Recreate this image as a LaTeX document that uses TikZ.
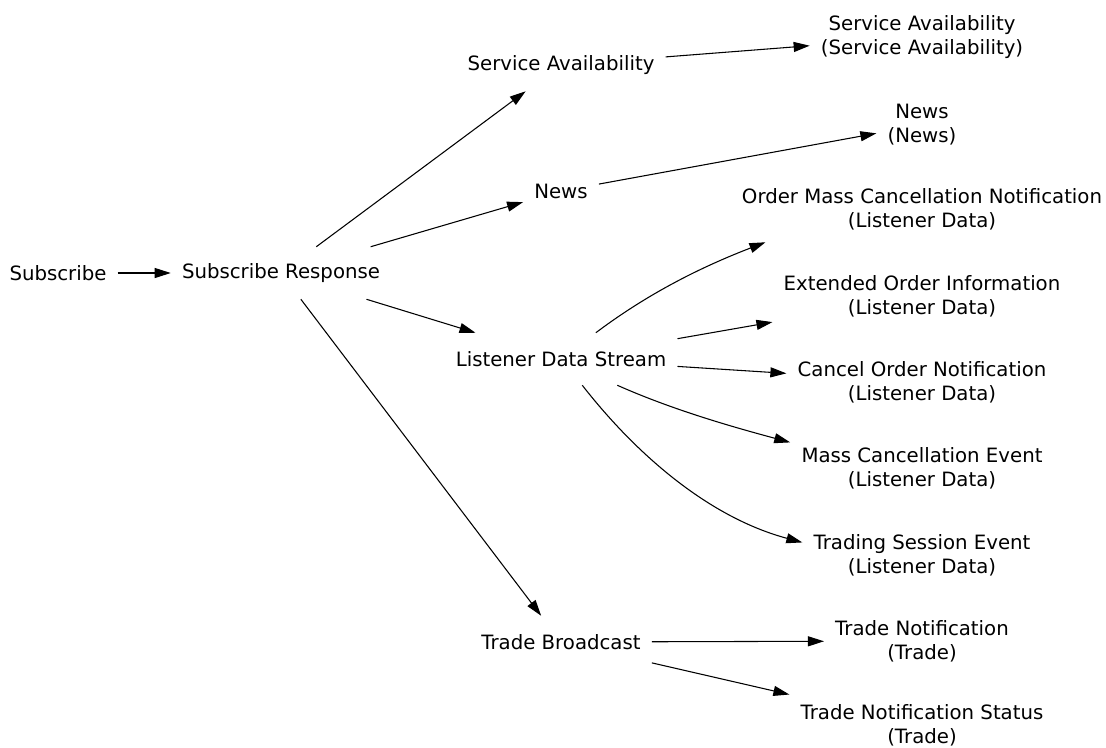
\documentclass[tikz,border=0pt]{standalone}
\usepackage{fontspec}
\setmainfont{DejaVu Sans}
\usepackage{tikz}
\usetikzlibrary{arrows.meta}

\begin{document}
\begin{tikzpicture}[x=0.75pt,y=-0.75pt,
        lbl/.style={align=center, inner xsep=8.25pt, inner ysep=0pt, minimum height=39pt,
            font=\fontsize{14.8pt}{18pt}\selectfont},
        lbltwo/.style={lbl, minimum height=49.5pt},
        flow/.style={-{Triangle[length=12pt,width=7.5pt]}, line width=0.8pt}]
        \useasboundingbox (0,0) rectangle (1106,747);
        % Define the message nodes
        \node[lbl] (sub) at (58,273) {Subscribe};
        \node[lbl] (subresp) at (281,273) {Subscribe Response};
        \node[lbl] (servav) at (561,65) {Service Availability};
        \node[lbl] (news) at (561,191) {News};
        \node[lbl] (lds) at (561,359) {Listener Data Stream};
        \node[lbl] (tradebc) at (561,642) {Trade Broadcast};
        \node[lbltwo] (servavmsg) at (922,37) {Service Availability\\(Service Availability)};
        \node[lbltwo] (newsmsg) at (922,125) {News\\(News)};
        \node[lbltwo] (omcn) at (922,209) {Order Mass Cancellation Notification\\(Listener Data)};
        \node[lbltwo] (eoi) at (922,296) {Extended Order Information\\(Listener Data)};
        \node[lbltwo] (coi) at (922,382) {Cancel Order Notification\\(Listener Data)};
        \node[lbltwo] (mce) at (922,468) {Mass Cancellation Event\\(Listener Data)};
        \node[lbltwo] (tse) at (922,555) {Trading Session Event\\(Listener Data)};
        \node[lbltwo] (tn) at (922,641) {Trade Notification\\(Trade)};
        \node[lbltwo] (tns) at (922,725) {Trade Notification Status\\(Trade)};
        % Add straight connectors
        \foreach \a/\b in {sub/subresp, subresp/servav, subresp/news, subresp/lds,
            subresp/tradebc, servav/servavmsg, news/newsmsg, lds/eoi, lds/coi,
            tradebc/tn, tradebc/tns} {
            \draw[flow] (\a) -- (\b);
        }
        % Add curved connectors
        \draw[flow] (lds.37) .. controls +(37:50pt) and +(201:50pt) .. (omcn.192);
        \draw[flow] (lds.-25) .. controls +(-24:45pt) and +(165:45pt) .. (mce.169);
        \draw[flow] (lds.-51) .. controls +(-52:70pt) and +(165:70pt) .. (tse.174);
\end{tikzpicture}
\end{document}
